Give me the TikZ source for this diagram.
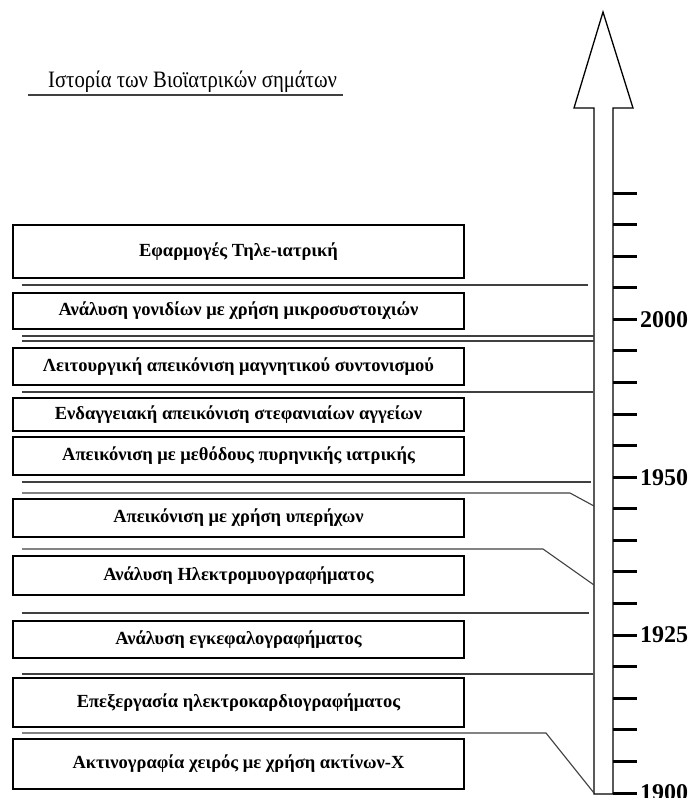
\documentclass[tikz,border=0pt]{standalone}
\usepackage{fontspec}
\usepackage{graphicx}
\setmainfont{Liberation Serif}
\begin{document}
\begin{tikzpicture}[x=1pt,y=-1pt,
  evbox/.style={draw=black, line width=1.3pt, minimum width=451pt, inner sep=0pt, font=\bfseries\fontsize{18.5}{20}\selectfont},
  sepline/.style={draw=black!75, line width=1.1pt},
  tickmark/.style={draw=black, line width=3pt},
  yearlabel/.style={font=\bfseries\fontsize{24}{26}\selectfont, anchor=west, inner sep=0pt},
  arrowshape/.style={draw=black, line width=1.3pt, line join=miter}]
\useasboundingbox (0,0) rectangle (694,798);

% title
\node[anchor=base west, inner sep=0pt, font=\fontsize{23.5}{25}\selectfont] (title) at (48,87) {\scalebox{0.88}[1]{Ιστορία των Βιοϊατρικών σημάτων}};
\coordinate (ulA) at (28,95);
\coordinate (ulB) at (343,95);
\draw[sepline] (ulA) -- (ulB);

% time arrow
\coordinate (sbl) at (594,794);
\coordinate (sbr) at (613,794);
\coordinate (hbl) at (594,108);
\coordinate (hbr) at (613,108);
\coordinate (hl) at (574,108);
\coordinate (hr) at (633,108);
\coordinate (tip) at (603,12);
\draw[arrowshape] (sbl) -- (hbl) -- (hl) -- (tip) -- (hr) -- (hbr) -- (sbr) -- cycle;

% ticks
\foreach \i in {0,...,19}{
  \coordinate (t\i a) at (613,193+31.58*\i);
  \coordinate (t\i b) at (637,193+31.58*\i);
  \draw[tickmark] (t\i a) -- (t\i b);
}
\node[yearlabel] (y2000) at (640,193+31.58*4) {2000};
\node[yearlabel] (y1950) at (640,193+31.58*9) {1950};
\node[yearlabel] (y1925) at (640,193+31.58*14) {1925};
\node[yearlabel] (y1900) at (640,193+31.58*19) {1900};

% boxes
\node[evbox, minimum height=53pt] (b1) at (238.5,251.5) {Εφαρμογές Τηλε-ιατρική};
\node[evbox, minimum height=36pt] (b2) at (238.5,311) {Ανάλυση γονιδίων με χρήση μικροσυστοιχιών};
\node[evbox, minimum height=37pt] (b3) at (238.5,366.5) {Λειτουργική απεικόνιση μαγνητικού συντονισμού};
\node[evbox, minimum height=33pt] (b4) at (238.5,414.5) {Ενδαγγειακή απεικόνιση στεφανιαίων αγγείων};
\node[evbox, minimum height=38pt] (b5) at (238.5,456) {Απεικόνιση με μεθόδους πυρηνικής ιατρικής};
\node[evbox, minimum height=38pt] (b6) at (238.5,518) {Απεικόνιση με χρήση υπερήχων};
\node[evbox, minimum height=39pt] (b7) at (238.5,575.5) {Ανάλυση Ηλεκτρομυογραφήματος};
\node[evbox, minimum height=37pt] (b8) at (238.5,639.5) {Ανάλυση εγκεφαλογραφήματος};
\node[evbox, minimum height=49pt] (b9) at (238.5,702.5) {Επεξεργασία ηλεκτροκαρδιογραφήματος};
\node[evbox, minimum height=50pt] (b10) at (238.5,764) {Ακτινογραφία χειρός με χρήση ακτίνων-Χ};

% separator lines
\coordinate (la1) at (22,285);  \coordinate (la2) at (588,285);
\draw[sepline] (la1) -- (la2);
\coordinate (lb1) at (22,336);  \coordinate (lb2) at (594,336);
\draw[sepline] (lb1) -- (lb2);
\coordinate (lc1) at (22,341);  \coordinate (lc2) at (594,341);
\draw[sepline] (lc1) -- (lc2);
\coordinate (ld1) at (22,392);  \coordinate (ld2) at (593,392);
\draw[sepline] (ld1) -- (ld2);
\coordinate (le1) at (22,482);  \coordinate (le2) at (591,482);
\draw[sepline] (le1) -- (le2);
\coordinate (lf1) at (22,493);  \coordinate (lf2) at (570,493); \coordinate (lf3) at (594,506);
\draw[sepline] (lf1) -- (lf2) -- (lf3);
\coordinate (lg1) at (22,549);  \coordinate (lg2) at (543,549); \coordinate (lg3) at (594,585);
\draw[sepline] (lg1) -- (lg2) -- (lg3);
\coordinate (lh1) at (22,613);  \coordinate (lh2) at (589,613);
\draw[sepline] (lh1) -- (lh2);
\coordinate (li1) at (22,674);  \coordinate (li2) at (593,674);
\draw[sepline] (li1) -- (li2);
\coordinate (lj1) at (22,733);  \coordinate (lj2) at (546,733); \coordinate (lj3) at (594,793);
\draw[sepline] (lj1) -- (lj2) -- (lj3);
\end{tikzpicture}
\end{document}
